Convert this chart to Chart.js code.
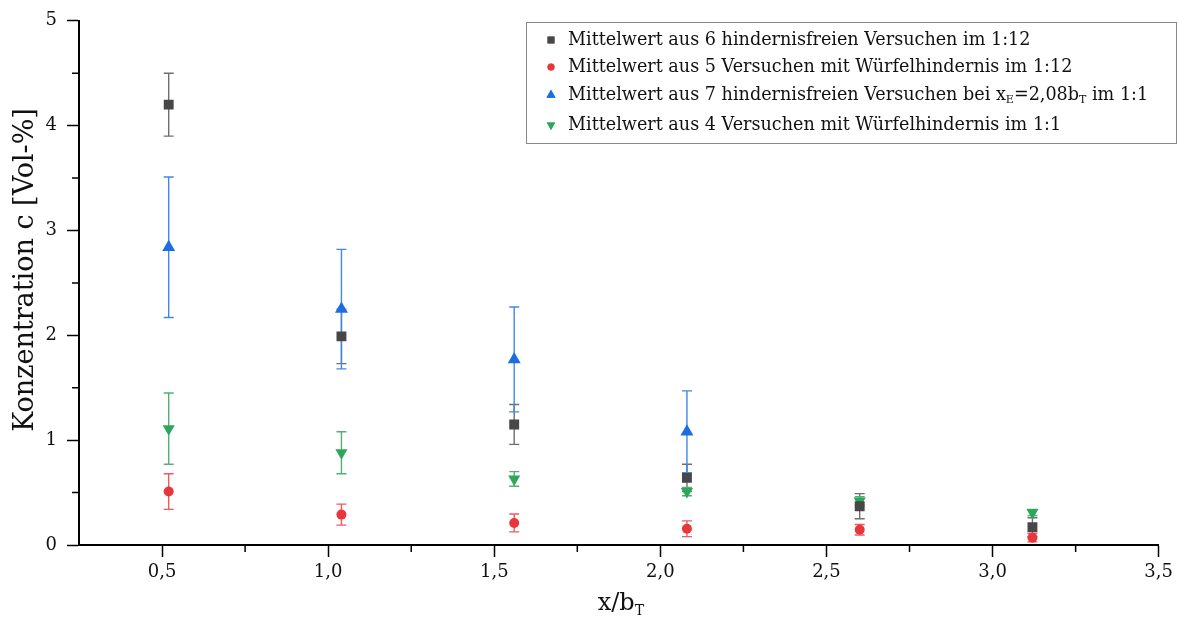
<!DOCTYPE html>
<html>
<head>
<meta charset="utf-8">
<script src="https://cdn.jsdelivr.net/npm/chart.js@4.4.1/dist/chart.umd.min.js"></script>
<style>
  html, body { margin: 0; padding: 0; background: #fff; }
  #wrap { width: 1178px; height: 625px; position: relative; }
</style>
</head>
<body>
<div id="wrap"><canvas id="concChart"></canvas></div>
<script>
// distance from the source, x/b_T
const xPositions = [0.52, 1.04, 1.56, 2.08, 2.60, 3.12];

// mean concentrations [Vol-%] and their deviations
const freeSmall = [4.2, 1.99, 1.15, 0.64, 0.37, 0.17];
const freeSmallErr = [0.3, 0.26, 0.19, 0.13, 0.12, 0.09];
const cubeSmall = [0.51, 0.29, 0.21, 0.155, 0.145, 0.07];
const cubeSmallErr = [0.17, 0.1, 0.085, 0.075, 0.05, 0.04];
const freeLarge = [2.84, 2.25, 1.77, 1.08];
const freeLargeErr = [0.67, 0.57, 0.5, 0.39];
const cubeLarge = [1.11, 0.88, 0.63, 0.51, 0.42, 0.31];
const cubeLargeErr = [0.34, 0.2, 0.07, 0.04, 0.04, 0.03];

const xTicks = [0.5, 1.0, 1.5, 2.0, 2.5, 3.0, 3.5];
const xMinorTicks = [0.75, 1.25, 1.75, 2.25, 2.75, 3.25];
const yTicks = [0, 1, 2, 3, 4, 5];
const yMinorTicks = [0.5, 1.5, 2.5, 3.5, 4.5];

const serif = "'DejaVu Serif', serif";

function points(vals) {
    return vals.map((v, i) => ({ x: xPositions[i], y: v }));
}

const datasets = [
    {
        label: 'Mittelwert aus 6 hindernisfreien Versuchen im 1:12',
        data: points(freeSmall), errors: freeSmallErr,
        pointStyle: 'rect', pointRadius: 7, rotation: 0,
        backgroundColor: '#474747', borderColor: '#474747', errColor: '#6e6e6e'
    },
    {
        label: 'Mittelwert aus 5 Versuchen mit Würfelhindernis im 1:12',
        data: points(cubeSmall), errors: cubeSmallErr,
        pointStyle: 'circle', pointRadius: 5, rotation: 0,
        backgroundColor: '#e8373c', borderColor: '#e8373c', errColor: '#ef5a5e'
    },
    {
        label: ['Mittelwert aus 7 hindernisfreien Versuchen bei x', 'E', '=2,08b', 'T', ' im 1:1'],
        data: points(freeLarge), errors: freeLargeErr,
        pointStyle: 'triangle', pointRadius: 7.5, rotation: 0,
        backgroundColor: '#1b6ee0', borderColor: '#1b6ee0', errColor: '#3f88e8'
    },
    {
        label: 'Mittelwert aus 4 Versuchen mit Würfelhindernis im 1:1',
        data: points(cubeLarge), errors: cubeLargeErr,
        pointStyle: 'triangle', pointRadius: 7, rotation: 180,
        backgroundColor: '#2ea65c', borderColor: '#2ea65c', errColor: '#4db375'
    }
];

// text with alternating normal / subscript pieces
function drawParts(ctx, parts, x, y, size, align) {
    const normal = size + 'px ' + serif;
    const small = Math.round(size * 0.6) + 'px ' + serif;
    let total = 0;
    parts.forEach((p, i) => {
        ctx.font = i % 2 ? small : normal;
        total += ctx.measureText(p).width;
    });
    let cx = align === 'center' ? x - total / 2 : x;
    ctx.textAlign = 'left';
    ctx.textBaseline = 'middle';
    parts.forEach((p, i) => {
        ctx.font = i % 2 ? small : normal;
        ctx.fillText(p, cx, i % 2 ? y + size * 0.32 : y);
        cx += ctx.measureText(p).width;
    });
}

const errorBars = {
    id: 'errorBars',
    beforeDatasetsDraw(chart) {
        const ctx = chart.ctx;
        const ys = chart.scales.y;
        ctx.save();
        chart.data.datasets.forEach((ds, di) => {
            const meta = chart.getDatasetMeta(di);
            ctx.strokeStyle = ds.errColor;
            ctx.lineWidth = 1.4;
            meta.data.forEach((pt, i) => {
                const v = ds.data[i].y, e = ds.errors[i];
                const top = ys.getPixelForValue(v + e);
                const bot = ys.getPixelForValue(v - e);
                ctx.beginPath();
                ctx.moveTo(pt.x, top); ctx.lineTo(pt.x, bot);
                ctx.moveTo(pt.x - 5, top); ctx.lineTo(pt.x + 5, top);
                ctx.moveTo(pt.x - 5, bot); ctx.lineTo(pt.x + 5, bot);
                ctx.stroke();
            });
        });
        ctx.restore();
    }
};

const decorations = {
    id: 'decorations',
    afterDraw(chart) {
        const ctx = chart.ctx;
        const area = chart.chartArea;
        const xs = chart.scales.x, ys = chart.scales.y;
        ctx.save();

        // minor ticks
        ctx.strokeStyle = '#000';
        ctx.lineWidth = 1.5;
        ctx.beginPath();
        xMinorTicks.forEach(v => {
            const px = xs.getPixelForValue(v);
            ctx.moveTo(px, area.bottom); ctx.lineTo(px, area.bottom + 7);
        });
        yMinorTicks.forEach(v => {
            const py = ys.getPixelForValue(v);
            ctx.moveTo(area.left - 7, py); ctx.lineTo(area.left, py);
        });
        ctx.stroke();

        // axis titles
        ctx.fillStyle = '#111';
        drawParts(ctx, ['x/b', 'T'], (area.left + area.right) / 2 + 2, 604, 24, 'center');
        ctx.save();
        ctx.translate(26, 270);
        ctx.rotate(-Math.PI / 2);
        drawParts(ctx, ['Konzentration c [Vol-%]'], 0, 0, 27, 'center');
        ctx.restore();

        // legend box
        const bx = 526, by = 22, bw = 650, bh = 121;
        ctx.fillStyle = '#fff';
        ctx.fillRect(bx, by, bw, bh);
        ctx.strokeStyle = '#8a8a8a';
        ctx.lineWidth = 1;
        ctx.strokeRect(bx + 0.5, by + 0.5, bw, bh);
        const rows = [40, 67, 95, 125];
        chart.data.datasets.forEach((ds, i) => {
            const cy = rows[i];
            ctx.fillStyle = ds.backgroundColor;
            Chart.helpers.drawPoint(ctx, {
                pointStyle: ds.pointStyle,
                rotation: ds.rotation,
                radius: ds.pointRadius * 0.7,
                borderWidth: 0
            }, 551, cy);
            ctx.fill();
            ctx.fillStyle = '#111';
            const parts = Array.isArray(ds.label) ? ds.label : [ds.label];
            drawParts(ctx, parts, 568, cy, 17.6, 'left');
        });
        ctx.restore();
    }
};

const tickFont = { family: serif, size: 18 };

new Chart(document.getElementById('concChart'), {
    type: 'scatter',
    data: { datasets: datasets },
    options: {
        responsive: true,
        maintainAspectRatio: false,
        animation: false,
        layout: { padding: { top: 20, right: 18, left: 0, bottom: 0 } },
        plugins: {
            legend: { display: false },
            tooltip: { enabled: false }
        },
        elements: { point: { borderWidth: 0 } },
        scales: {
            x: {
                type: 'linear',
                min: 0.25,
                max: 3.5,
                afterBuildTicks: s => { s.ticks = xTicks.map(v => ({ value: v })); },
                afterFit: s => { s.height = 80; },
                ticks: {
                    font: tickFont,
                    color: '#111',
                    padding: 5,
                    maxRotation: 0,
                    callback: v => v.toFixed(1).replace('.', ',')
                },
                grid: {
                    drawOnChartArea: false,
                    tickLength: 12,
                    tickColor: '#000',
                    tickWidth: 1.5
                },
                border: { color: '#000', width: 2 }
            },
            y: {
                type: 'linear',
                min: 0,
                max: 5,
                afterBuildTicks: s => { s.ticks = yTicks.map(v => ({ value: v })); },
                afterFit: s => { s.width = 79; },
                ticks: {
                    font: tickFont,
                    color: '#111',
                    padding: 10,
                    callback: v => String(v)
                },
                grid: {
                    drawOnChartArea: false,
                    tickLength: 12,
                    tickColor: '#000',
                    tickWidth: 1.5
                },
                border: { color: '#000', width: 2 }
            }
        }
    },
    plugins: [errorBars, decorations]
});
</script>
</body>
</html>
